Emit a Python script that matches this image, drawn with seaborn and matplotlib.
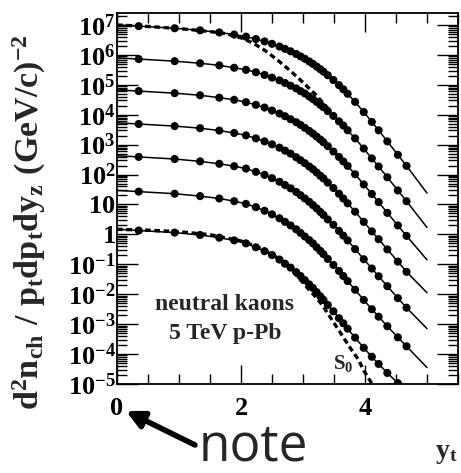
import numpy as np
import pandas as pd
import matplotlib
matplotlib.use("Agg")
import matplotlib.pyplot as plt
import seaborn as sns
from matplotlib.ticker import FixedLocator, FixedFormatter, LogLocator, MultipleLocator, NullFormatter

# ---------------- data (log10 of the spectra) ----------------
yt_line = [0.00, 0.35, 0.93, 1.34, 1.65, 1.89, 2.08, 2.24, 2.38, 2.50, 2.62, 2.71,
           2.80, 2.89, 2.96, 3.03, 3.10, 3.16, 3.22, 3.28, 3.33, 3.40, 3.49, 3.58,
           3.65, 3.72, 3.84, 3.98, 4.11, 4.22, 4.36, 4.53, 4.67, 5.00]

log_c1 = [7.00, 6.96, 6.89, 6.82, 6.75, 6.68, 6.61, 6.53, 6.45, 6.37, 6.28, 6.20,
          6.12, 6.03, 5.95, 5.87, 5.78, 5.70, 5.61, 5.52, 5.44, 5.32, 5.16, 4.99,
          4.85, 4.70, 4.43, 4.09, 3.76, 3.48, 3.11, 2.66, 2.29, 1.38]
log_c2 = [5.90, 5.86, 5.79, 5.72, 5.65, 5.57, 5.50, 5.42, 5.33, 5.24, 5.15, 5.06,
          4.97, 4.88, 4.79, 4.71, 4.61, 4.52, 4.43, 4.33, 4.25, 4.12, 3.96, 3.78,
          3.64, 3.48, 3.21, 2.87, 2.54, 2.27, 1.91, 1.47, 1.11, 0.23]
log_c3 = [4.83, 4.79, 4.72, 4.65, 4.57, 4.50, 4.42, 4.33, 4.24, 4.14, 4.04, 3.95,
          3.85, 3.75, 3.66, 3.56, 3.46, 3.37, 3.27, 3.17, 3.08, 2.95, 2.77, 2.59,
          2.44, 2.29, 2.01, 1.67, 1.35, 1.08, 0.72, 0.30, -0.05, -0.85]
log_c4 = [3.73, 3.69, 3.62, 3.55, 3.47, 3.39, 3.31, 3.21, 3.11, 3.01, 2.90, 2.80,
          2.70, 2.58, 2.48, 2.38, 2.27, 2.18, 2.07, 1.96, 1.87, 1.73, 1.55, 1.36,
          1.20, 1.04, 0.76, 0.42, 0.10, -0.16, -0.50, -0.91, -1.25, -1.95]
log_c5 = [2.63, 2.59, 2.52, 2.44, 2.36, 2.28, 2.20, 2.09, 1.99, 1.88, 1.76, 1.65,
          1.54, 1.42, 1.31, 1.20, 1.09, 0.98, 0.87, 0.75, 0.65, 0.50, 0.32, 0.12,
          -0.04, -0.20, -0.49, -0.83, -1.14, -1.40, -1.73, -2.13, -2.45, -3.15]
log_c6 = [1.47, 1.43, 1.36, 1.28, 1.20, 1.11, 1.02, 0.91, 0.79, 0.67, 0.54, 0.42,
          0.30, 0.17, 0.05, -0.07, -0.19, -0.30, -0.43, -0.55, -0.66, -0.82, -1.02, -1.22,
          -1.39, -1.56, -1.85, -2.19, -2.50, -2.75, -3.07, -3.44, -3.74, -4.45]
log_c7 = [0.17, 0.13, 0.06, -0.02, -0.11, -0.20, -0.30, -0.43, -0.56, -0.69, -0.84, -0.98,
          -1.11, -1.26, -1.39, -1.53, -1.67, -1.79, -1.93, -2.07, -2.19, -2.36, -2.57, -2.80,
          -2.97, -3.15, -3.45, -3.79, -4.09, -4.33, -4.63, -4.97, -5.24, -6.00]

# soft component S0 (dashed) for top and bottom classes
soft_top_yt = [0.0, 0.5, 1.0, 1.5, 1.75, 2.0, 2.2, 2.4, 2.6, 2.8, 3.0, 3.2, 3.42]
soft_top_log = [7.00, 6.95, 6.88, 6.78, 6.71, 6.57, 6.39, 6.13, 5.81, 5.46, 5.08, 4.68, 4.17]
soft_bot_yt = [0.0, 0.5, 1.0, 1.5, 2.0, 2.25, 2.5, 2.75, 2.93, 3.09, 3.24, 3.34,
               3.45, 3.56, 3.77, 3.89, 3.98, 4.10, 4.20]
soft_bot_log = [0.17, 0.14, 0.09, -0.01, -0.22, -0.40, -0.66, -1.02, -1.45, -1.83, -2.17, -2.45,
                -2.80, -3.15, -3.82, -4.17, -4.55, -4.95, -5.30]

curves = [log_c1, log_c2, log_c3, log_c4, log_c5, log_c6, log_c7]
y_exponents = list(range(-5, 8))
y_tick_labels = [r"$10^{-5}$", r"$10^{-4}$", r"$10^{-3}$", r"$10^{-2}$", r"$10^{-1}$",
                 r"$1\ \ \,$", r"$10\ \ \,$", r"$10^{2}$", r"$10^{3}$", r"$10^{4}$", r"$10^{5}$",
                 r"$10^{6}$", r"$10^{7}$"]
x_tick_values = [0, 2, 4]

# ---------------- style ----------------
sns.set_theme(style="ticks")
plt.rcParams.update({
    "font.family": ["Liberation Serif", "DejaVu Serif"],
    "font.weight": "bold",
    "mathtext.fontset": "custom",
    "mathtext.rm": "Liberation Serif:bold",
    "mathtext.it": "Liberation Serif:bold",
    "mathtext.bf": "Liberation Serif:bold",
    "axes.edgecolor": "black",
    "axes.linewidth": 1.3,
    "xtick.color": "black",
    "ytick.color": "black",
})

W, H = 461, 473
fig = plt.figure(figsize=(W / 100, H / 100), dpi=100)
ax = fig.add_axes([117 / W, 1 - 384 / H, (458 - 117) / W, (384 - 13) / H])

yt_arr = np.array(yt_line)
rows = []
for k, c in enumerate(curves):
    vals = 10 ** np.array(c)
    sns.lineplot(x=yt_arr, y=vals, ax=ax, color="black", linewidth=1.1,
                 estimator=None, sort=False)
    for x, v in zip(yt_arr[1:-1], vals[1:-1]):
        rows.append({"yt": x, "val": v, "cls": k})
dots = pd.DataFrame(rows)
sns.scatterplot(data=dots, x="yt", y="val", hue="cls",
                palette=["black"] * len(curves), legend=False, ax=ax,
                s=34, linewidth=0, zorder=5)

for xs, ls in [(soft_top_yt, soft_top_log), (soft_bot_yt, soft_bot_log)]:
    sns.lineplot(x=np.array(xs), y=10 ** np.array(ls), ax=ax, color="black",
                 linewidth=2.4, linestyle=(0, (1.7, 1.1)), estimator=None, sort=False)

ax.set_yscale("log")
ax.set_xlim(0, 5.5)
ax.set_ylim(1e-5, 10 ** 7.4)

ax.yaxis.set_major_locator(FixedLocator([10.0 ** e for e in y_exponents]))
ax.yaxis.set_major_formatter(FixedFormatter(y_tick_labels))
ax.yaxis.set_minor_locator(LogLocator(base=10, subs=np.arange(2, 10), numticks=50))
ax.yaxis.set_minor_formatter(NullFormatter())
ax.xaxis.set_major_locator(FixedLocator(x_tick_values))
ax.xaxis.set_minor_locator(MultipleLocator(0.5))
ax.set_xticklabels([str(v) for v in x_tick_values])

ax.tick_params(which="both", direction="in", top=True, right=True, width=1.0)
ax.tick_params(axis="y", which="major", length=15, labelsize=19, pad=1)
ax.tick_params(axis="y", which="minor", length=7)
ax.tick_params(axis="x", which="major", length=14, labelsize=19, pad=9)
ax.tick_params(axis="x", which="minor", length=7)
ax.set_xlabel("")
ax.set_ylabel("")

# texts
fig.text(224 / W, 1 - 305 / H, "neutral kaons", ha="center", va="center",
         fontsize=17, fontweight="bold")
fig.text(225 / W, 1 - 333 / H, "5 TeV p-Pb", ha="center", va="center",
         fontsize=17, fontweight="bold")
fig.text(343 / W, 1 - 363 / H, r"$\mathrm{S_0}$", ha="center", va="center", fontsize=15)
fig.text(446 / W, 1 - 453 / H, r"$\mathrm{y_t}$", ha="center", va="center", fontsize=20)
fig.text(29 / W, 1 - 222 / H,
         r"$\mathrm{d^2n_{ch}\ /\ p_t dp_t dy_z\ (GeV/c)^{-2}}$",
         rotation=90, ha="center", va="center", fontsize=24.5)

# note with arrow
fig.text(199 / W, 0.5 / H, "note", family="Open Sans", fontweight="normal",
         fontsize=37, ha="left", va="bottom")
ax.annotate("", xy=(126, H - 411), xytext=(195, H - 445),
            xycoords="figure pixels", textcoords="figure pixels",
            arrowprops=dict(arrowstyle="-|>", lw=4, color="black",
                            mutation_scale=26, shrinkA=0, shrinkB=0))

fig.savefig("out.png", dpi=100)
